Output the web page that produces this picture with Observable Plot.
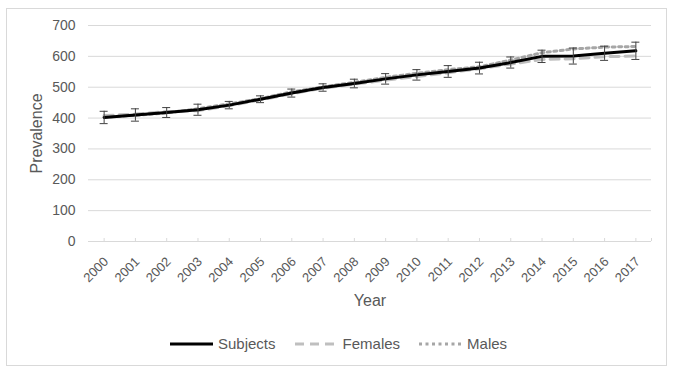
<!DOCTYPE html>
<html><head><meta charset="utf-8">
<script src="https://cdn.jsdelivr.net/npm/d3@7"></script>
<script src="https://cdn.jsdelivr.net/npm/@observablehq/plot@0.6"></script>
<style>
body{margin:0;background:#fff;font-family:"Liberation Sans",Arial,sans-serif;}
#frame{position:absolute;left:6px;top:8px;width:661px;height:358px;border:1px solid #d9d9d9;box-sizing:border-box;}
#chart{position:absolute;left:0;top:0;}
#chart g[aria-label="y-axis label"] text, #chart g[aria-label="x-axis label"] text{font-size:16px;}
#chart g[aria-label="y-axis tick label"] text{font-size:14px;}
#legend{position:absolute;left:170px;top:335px;display:flex;align-items:center;font-size:15px;color:#595959;}
.item{display:flex;align-items:center;margin-right:19px;}
.item svg{margin-right:5px;}
</style></head>
<body>
<div id="frame"></div>
<div id="chart"></div>
<div id="legend"></div>
<script>
const years = [2000,2001,2002,2003,2004,2005,2006,2007,2008,2009,2010,2011,2012,2013,2014,2015,2016,2017];
const subjects = [402,410,418,427,442,461,481,499,512,527,540,551,562,580,600,601,610,618];
const females  = [408,413,421,424,440,459,479,497,510,523,535,547,560,575,590,592,599,601];
const males    = [403,409,417,430,446,463,485,501,516,532,545,557,566,588,612,624,630,632];
const subjectsErr = [20,20,16,18,12,11,13,12,14,17,17,19,19,18,20,26,23,28];
const yTicks = [0,100,200,300,400,500,600,700];
const seriesNames = ["Subjects","Females","Males"];

const rows = (vals) => years.map((y,i)=>({year:y, value:vals[i]}));
const subjRows = years.map((y,i)=>({year:y, value:subjects[i], lo:subjects[i]-subjectsErr[i], hi:subjects[i]+subjectsErr[i]}));
const xStart = years[0]-0.5, xEnd = years[years.length-1]+0.5;
const tickMarks = years.concat([xEnd]);

const grey = "#595959", grid = "#d9d9d9";
const styles = {
  Subjects: {stroke:"#000000", dash:null},
  Females: {stroke:"#bfbfbf", dash:"9,6"},
  Males: {stroke:"#a6a6a6", dash:"3,3.5"}
};

const chart = Plot.plot({
  width: 674, height: 320,
  marginLeft: 88, marginRight: 23, marginTop: 25, marginBottom: 79,
  style: {fontFamily: '"Liberation Sans", Arial, sans-serif', fontSize: "13px", color: grey, background: "transparent"},
  x: {domain: [xStart, xEnd]},
  y: {domain: [0, 700]},
  marks: [
    Plot.gridY(yTicks.slice(1), {stroke: grid, strokeOpacity: 1}),
    Plot.axisY(yTicks, {tickSize: 0, tickPadding: 13, label: "Prevalence", labelAnchor: "center", labelArrow: "none", labelOffset: 58, fill: grey}),
    Plot.axisX(tickMarks, {tickSize: 3, dy: -3, tickFormat: () => "", stroke: grid, label: null}),
    Plot.axisX(years, {tickSize: 0, tickRotate: -45, tickPadding: 18, dx: 2, tickFormat: d => String(d), label: "Year", labelAnchor: "center", labelArrow: "none", labelOffset: 64, fill: grey}),
    Plot.ruleY([0], {stroke: grid}),
    Plot.line(rows(females), {x:"year", y:"value", stroke: styles.Females.stroke, strokeWidth: 3, strokeDasharray: styles.Females.dash}),
    Plot.line(rows(males), {x:"year", y:"value", stroke: styles.Males.stroke, strokeWidth: 3, strokeDasharray: styles.Males.dash}),
    Plot.line(subjRows, {x:"year", y:"value", stroke: styles.Subjects.stroke, strokeWidth: 3}),
    Plot.ruleX(subjRows, {x:"year", y1:"lo", y2:"hi", stroke:"#404040", strokeWidth:1}),
    Plot.ruleY(subjRows, {x1:"year", x2:"year", y:"lo", insetLeft:-4, insetRight:-4, stroke:"#404040", strokeWidth:1}),
    Plot.ruleY(subjRows, {x1:"year", x2:"year", y:"hi", insetLeft:-4, insetRight:-4, stroke:"#404040", strokeWidth:1})
  ]
});
document.getElementById("chart").appendChild(chart);

const legend = document.getElementById("legend");
for (const name of seriesNames) {
  const s = styles[name];
  const item = document.createElement("div");
  item.className = "item";
  item.innerHTML = `<svg width="43" height="8"><line x1="0" y1="4" x2="43" y2="4" stroke="${s.stroke}" stroke-width="3" ${s.dash ? `stroke-dasharray="${s.dash}"` : ""}/></svg><span>${name}</span>`;
  legend.appendChild(item);
}
</script>
</body></html>
